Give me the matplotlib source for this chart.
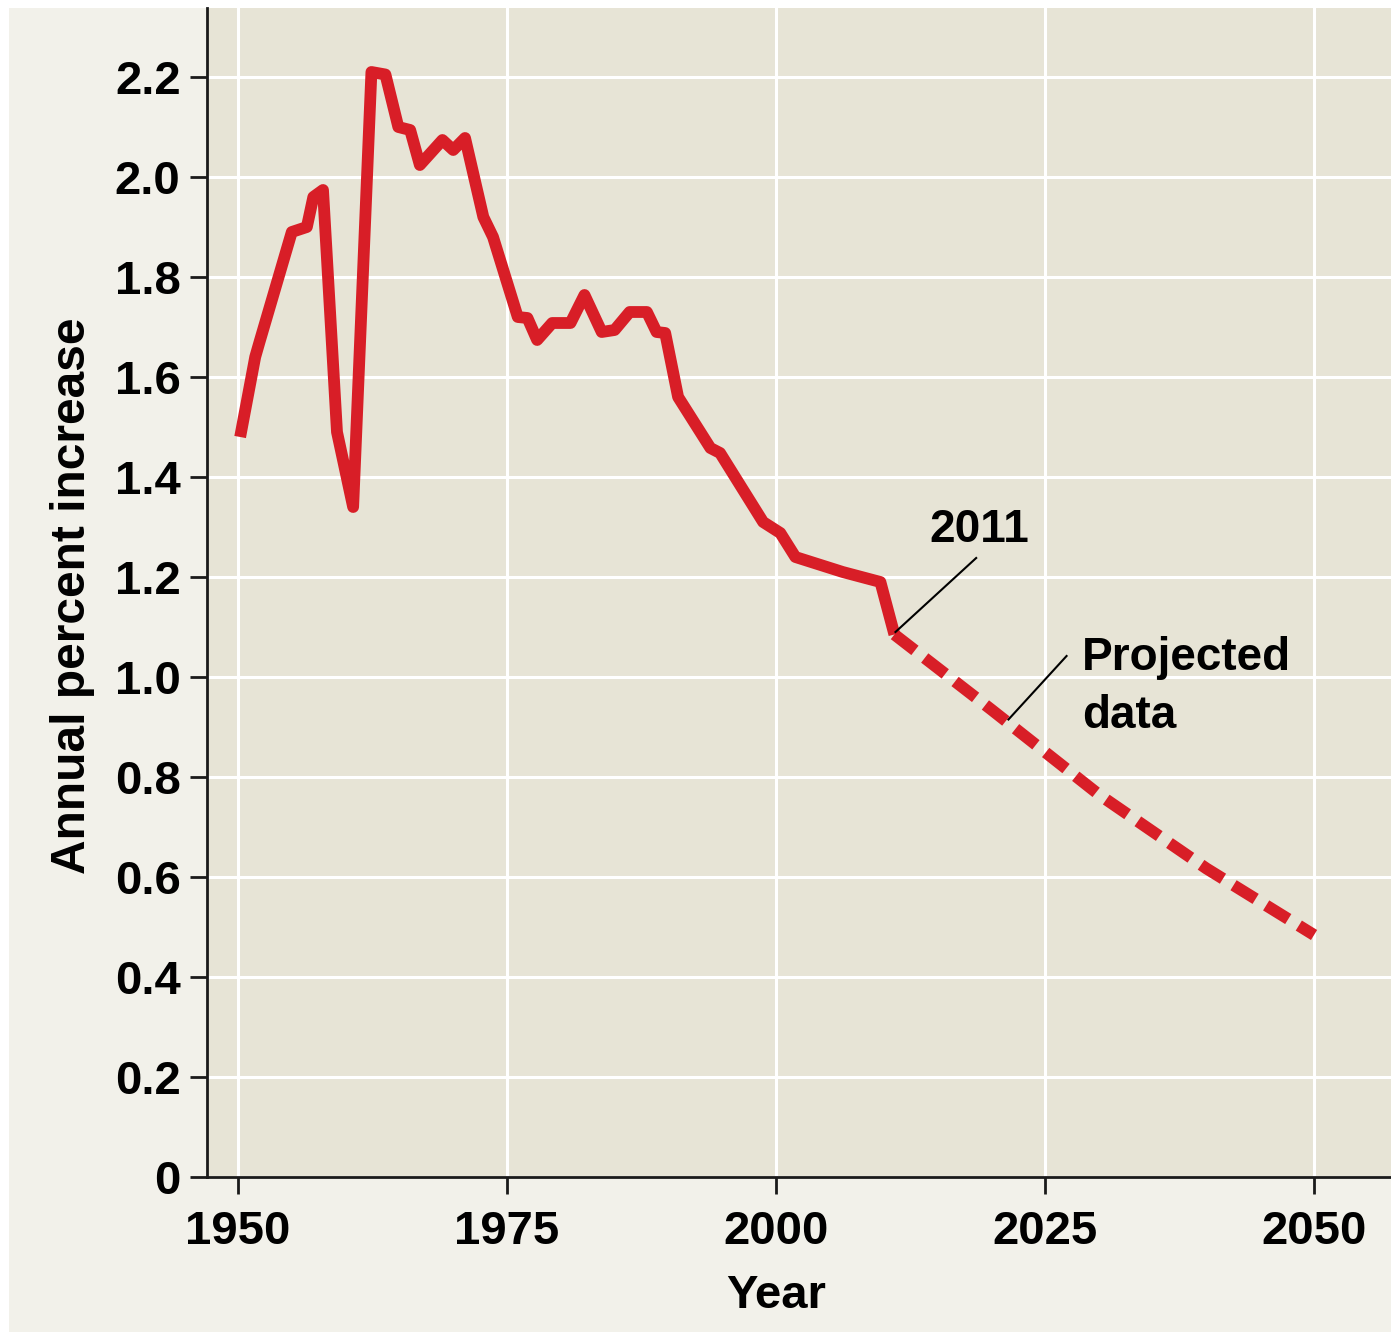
import numpy as np
import matplotlib.pyplot as plt
from matplotlib.patches import Rectangle

years = [1950.2, 1951.6, 1952, 1955, 1956.4, 1957, 1957.9, 1959.2, 1960.7,
         1962.4, 1963.7, 1964.9, 1966, 1966.9, 1969, 1970, 1971.1, 1972.8,
         1973.7, 1976, 1976.9, 1977.8, 1979.2, 1980.9, 1982.2, 1983.8, 1985,
         1986.4, 1988, 1988.9, 1989.7, 1990.9, 1993.9, 1994.8, 1998.8, 2000.4,
         2001.8, 2006.2, 2009.7, 2011]
rates = [1.48, 1.64, 1.67, 1.89, 1.90, 1.96, 1.974, 1.49, 1.34,
         2.21, 2.205, 2.10, 2.094, 2.024, 2.074, 2.054, 2.078, 1.92,
         1.88, 1.72, 1.718, 1.674, 1.708, 1.708, 1.764, 1.69, 1.694,
         1.73, 1.73, 1.69, 1.688, 1.56, 1.458, 1.448, 1.31, 1.288,
         1.24, 1.21, 1.19, 1.085]

# projection
proj_years = [2011, 2020, 2030, 2040, 2050]
proj_rates = [1.085, 0.935, 0.765, 0.617, 0.484]

x_ticks = [1950, 1975, 2000, 2025, 2050]
y_ticks = [0, 0.2, 0.4, 0.6, 0.8, 1.0, 1.2, 1.4, 1.6, 1.8, 2.0, 2.2]
y_labels = ['0'] + ['%.1f' % v for v in y_ticks[1:]]

plt.rcParams['font.family'] = ['Liberation Sans', 'DejaVu Sans']
plt.rcParams['font.weight'] = 'bold'

red = '#d81e27'

fig = plt.figure(figsize=(13.91, 13.34), dpi=100, facecolor='white')
fig.patches.append(Rectangle((9/1391, 2/1334), 1 - 9/1391, 1 - 10/1334,
                             transform=fig.transFigure, facecolor='#f2f1ea',
                             edgecolor='none', zorder=-5))
ax = fig.add_axes([207/1391, 157/1334, 1 - 207/1391, (1177 - 8)/1334])
ax.set_facecolor('#e7e4d6')

ax.plot(years, rates, color=red, lw=8.5, solid_joinstyle='round',
        solid_capstyle='butt', zorder=3)
ax.plot(proj_years, proj_rates, color=red, lw=8.5, linestyle=(0, (2.2, 1.05)),
        dash_capstyle='butt', zorder=3)

ax.set_xlim(1947.12, 2057.15)
ax.set_ylim(0, 2.338)
ax.set_xticks(x_ticks)
ax.set_yticks(y_ticks)
ax.set_yticklabels(y_labels)
ax.grid(True, color='white', lw=2.2, zorder=1)
ax.set_axisbelow(True)

for s in ['top', 'right']:
    ax.spines[s].set_visible(False)
for s in ['left', 'bottom']:
    ax.spines[s].set_linewidth(2)
    ax.spines[s].set_color('#1a1a1a')

ax.tick_params(axis='both', direction='out', length=12, width=2,
               color='#1a1a1a', labelsize=34)
ax.tick_params(axis='x', pad=12)
ax.tick_params(axis='y', pad=7)
for lab in ax.get_xticklabels() + ax.get_yticklabels():
    lab.set_fontweight('bold')

ax.set_xlabel('Year', fontsize=34, fontweight='bold')
ax.xaxis.set_label_coords((776 - 207) / 1184, -0.083)
ax.set_ylabel('Annual percent increase', fontsize=34.5, fontweight='bold')
ax.yaxis.set_label_coords(-0.095, (1177 - 596) / 1169)

# callouts
ax.plot([2011.1, 2018.6], [1.09, 1.238], color='black', lw=1.5, zorder=4)
ax.text(2018.9, 1.25, '2011', fontsize=33, fontweight='bold',
        ha='center', va='bottom')
ax.plot([2021.6, 2027.0], [0.915, 1.042], color='black', lw=1.5, zorder=4)
ax.text(2028.4, 1.014, 'Projected', fontsize=33, fontweight='bold',
        ha='left', va='baseline')
ax.text(2028.4, 0.898, 'data', fontsize=33, fontweight='bold',
        ha='left', va='baseline')

fig.savefig('out.png', dpi=100, facecolor=fig.get_facecolor())
